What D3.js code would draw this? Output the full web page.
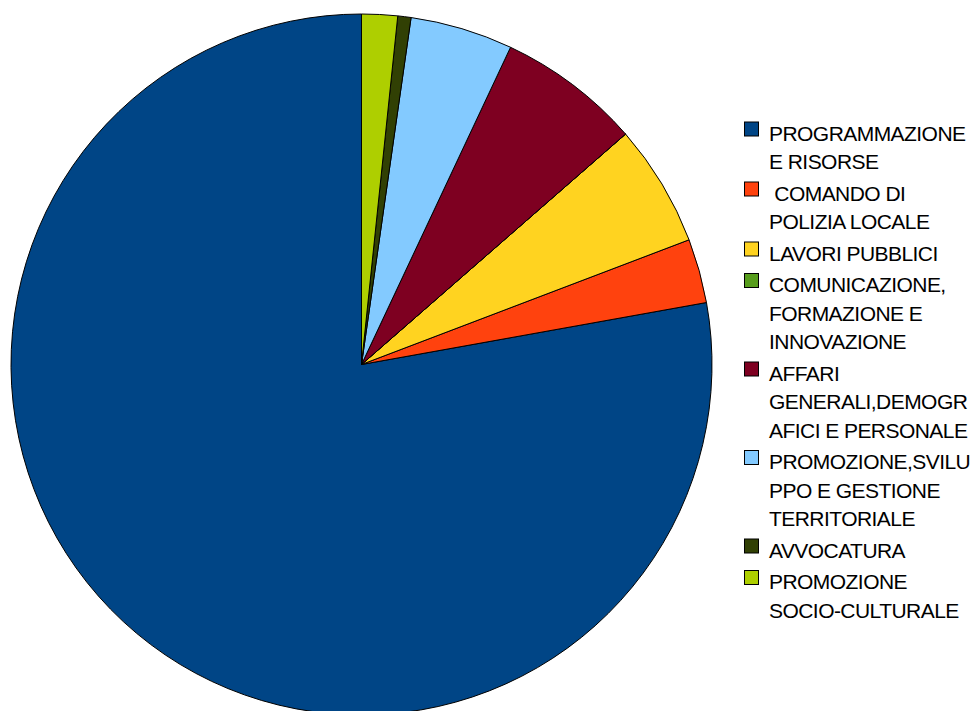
<!DOCTYPE html>
<html>
<head>
<meta charset="utf-8">
<script src="https://cdn.jsdelivr.net/npm/d3@7"></script>
<style>
  html, body { margin: 0; padding: 0; background: #fff; }
  svg { display: block; }
  .legend text { font-family: "Liberation Sans", Arial, sans-serif; font-size: 21px; letter-spacing: -0.55px; fill: #000; }
</style>
</head>
<body>
<div id="chart"></div>
<script>
// legend labels, wrapped the same way as the original
const labels = [
  ["PROGRAMMAZIONE", "E RISORSE"],
  ["\u00a0COMANDO DI", "POLIZIA LOCALE"],
  ["LAVORI PUBBLICI"],
  ["COMUNICAZIONE,", "FORMAZIONE E", "INNOVAZIONE"],
  ["AFFARI", "GENERALI,DEMOGR", "AFICI E PERSONALE"],
  ["PROMOZIONE,SVILU", "PPO E GESTIONE", "TERRITORIALE"],
  ["AVVOCATURA"],
  ["PROMOZIONE", "SOCIO-CULTURALE"]
];
// share of the total (%)
const values = [77.83, 2.96, 5.63, 0, 6.59, 4.73, 0.61, 1.65];
const colors = ["#004586", "#ff420e", "#ffd320", "#579d1c", "#7e0021", "#83caff", "#314004", "#aecf00"];

const width = 972, height = 711;
const cx = 361.5, cy = 364.5, radius = 350.5;

const svg = d3.select("#chart").append("svg")
  .attr("width", width)
  .attr("height", height);

// slices run counter-clockwise starting from 12 o'clock
const pie = d3.pie().sort(null).startAngle(0).endAngle(-2 * Math.PI);
const arc = d3.arc().innerRadius(0).outerRadius(radius);

const data = values.map((v, i) => ({ value: v, color: colors[i], label: labels[i] }));

svg.append("g")
  .attr("transform", "translate(" + cx + "," + cy + ")")
  .selectAll("path")
  .data(pie.value(d => d.value)(data))
  .enter()
  .append("path")
  .attr("d", arc)
  .attr("fill", d => d.data.color)
  .attr("stroke", "#000")
  .attr("stroke-width", 1)
  .attr("stroke-linejoin", "round");

// legend
const lineH = 28.5, entryGap = 3;
const legend = svg.append("g").attr("class", "legend");
let y = 133; // middle of first text line
data.forEach(function (d) {
  const g = legend.append("g");
  g.append("rect")
    .attr("x", 744.5)
    .attr("y", y - 11)
    .attr("width", 14)
    .attr("height", 14)
    .attr("fill", d.color)
    .attr("stroke", "#000")
    .attr("stroke-width", 1);
  d.label.forEach(function (line, k) {
    g.append("text")
      .attr("x", 769)
      .attr("y", y + k * lineH + 7.5)
      .text(line);
  });
  y += d.label.length * lineH + entryGap;
});
</script>
</body>
</html>
